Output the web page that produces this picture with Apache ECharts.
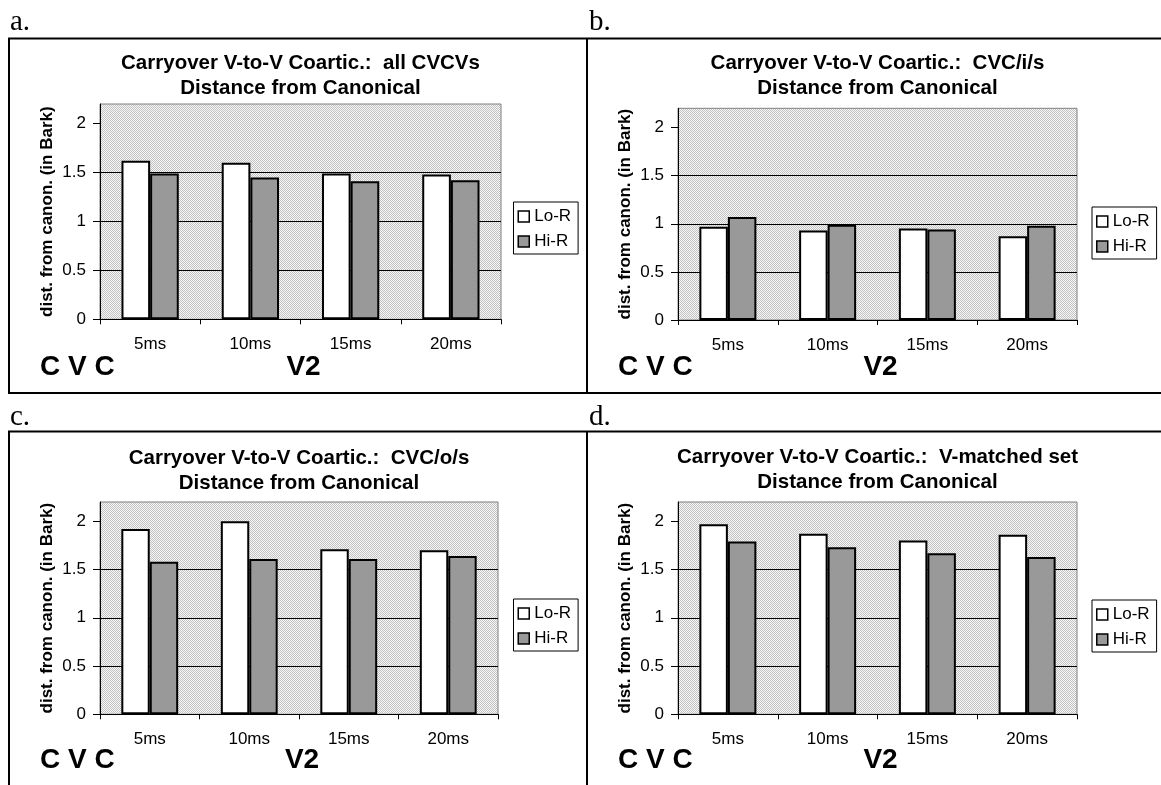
<!DOCTYPE html>
<html>
<head>
<meta charset="utf-8">
<script src="https://cdn.jsdelivr.net/npm/echarts@6/dist/echarts.min.js"></script>
<style>
  html, body { margin: 0; padding: 0; background: #fff; }
  #chart { width: 1161px; height: 785px; }
</style>
</head>
<body>
<div id="chart"></div>
<script>
// ---- data ----
const categories = ['5ms', '10ms', '15ms', '20ms'];
const seriesNames = ['Lo-R', 'Hi-R'];
const yTicks = [0, 0.5, 1, 1.5, 2];

// a. all CVCVs
const loR_all = [1.62, 1.60, 1.49, 1.48];
const hiR_all = [1.49, 1.45, 1.41, 1.42];
// b. CVC/i/s
const loR_i = [0.97, 0.93, 0.95, 0.87];
const hiR_i = [1.07, 0.99, 0.94, 0.98];
// c. CVC/o/s
const loR_o = [1.92, 2.00, 1.71, 1.70];
const hiR_o = [1.58, 1.61, 1.61, 1.64];
// d. V-matched set
const loR_v = [1.97, 1.87, 1.80, 1.86];
const hiR_v = [1.79, 1.73, 1.67, 1.63];

const panelLetters = ['a.', 'b.', 'c.', 'd.'];
const panelTitles = [
  'Carryover V-to-V Coartic.:  all CVCVs',
  'Carryover V-to-V Coartic.:  CVC/i/s',
  'Carryover V-to-V Coartic.:  CVC/o/s',
  'Carryover V-to-V Coartic.:  V-matched set'
];
const subTitle = 'Distance from Canonical';
const yName = 'dist. from canon. (in Bark)';
const cvcText = 'C V C';
const v2Text = 'V2';

const loSets = [loR_all, loR_i, loR_o, loR_v];
const hiSets = [hiR_all, hiR_i, hiR_o, hiR_v];

// ---- layout ----
const SANS = '"Liberation Sans", Arial, sans-serif';
const SERIF = '"Liberation Serif", "Times New Roman", serif';
const layout = [
  { grid: { left: 100, top: 104, width: 401, height: 215.3 }, letter: [10, 22], titleTop: 51, legend: [513.5, 202], bottomY: 367.5 },
  { grid: { left: 678, top: 108.3, width: 399, height: 211.7 }, letter: [589, 22], titleTop: 51, legend: [1092, 207], bottomY: 367.5 },
  { grid: { left: 100, top: 502, width: 398, height: 212.3 }, letter: [10, 417], titleTop: 446, legend: [513.5, 599], bottomY: 760.5 },
  { grid: { left: 678, top: 502, width: 399, height: 212.3 }, letter: [589, 417], titleTop: 445, legend: [1092, 600], bottomY: 760.5 }
];

// stippled plot-area fill
const pat = document.createElement('canvas');
pat.width = 2; pat.height = 2;
const pctx = pat.getContext('2d');
pctx.fillStyle = '#f7f7f7';
pctx.fillRect(0, 0, 2, 2);
pctx.fillStyle = '#c2c2c2';
pctx.fillRect(0, 0, 1, 1);
pctx.fillRect(1, 1, 1, 1);
const plotFill = { image: pat, repeat: 'repeat' };

const grids = [], xAxes = [], yAxes = [], series = [], legends = [], titles = [], graphics = [];

layout.forEach((L, i) => {
  const g = L.grid;
  const cx = g.left + g.width / 2;
  grids.push(Object.assign({
    show: true,
    backgroundColor: plotFill,
    borderColor: '#808080',
    borderWidth: 1,
    containLabel: false
  }, g));

  xAxes.push({
    type: 'category',
    gridIndex: i,
    data: categories,
    axisLine: { show: true, lineStyle: { color: '#000', width: 1 } },
    axisTick: { show: true, length: 5, lineStyle: { color: '#000' } },
    axisLabel: { fontSize: 17, color: '#000', fontFamily: SANS, margin: 17 },
    splitLine: { show: false }
  });

  yAxes.push({
    type: 'value',
    gridIndex: i,
    min: 0,
    max: 2.2,
    interval: 0.5,
    name: yName,
    nameLocation: 'middle',
    nameGap: 44,
    nameTextStyle: { fontSize: 17, fontWeight: 'bold', color: '#000', fontFamily: SANS },
    axisLine: { show: true, lineStyle: { color: '#000', width: 1 } },
    axisTick: { show: true, length: 7, lineStyle: { color: '#000' }, customValues: yTicks },
    axisLabel: { fontSize: 17, color: '#000', fontFamily: SANS, margin: 14, customValues: yTicks },
    splitLine: { show: true, showMaxLine: false, lineStyle: { color: '#000', width: 1 } }
  });

  series.push({
    type: 'bar',
    name: seriesNames[0],
    xAxisIndex: i,
    yAxisIndex: i,
    data: loSets[i],
    barGap: '0%',
    barCategoryGap: '42.86%',
    itemStyle: { color: '#ffffff', borderColor: '#000', borderWidth: 2 },
    emphasis: { disabled: true }
  });
  series.push({
    type: 'bar',
    name: seriesNames[1],
    xAxisIndex: i,
    yAxisIndex: i,
    data: hiSets[i],
    barGap: '0%',
    barCategoryGap: '42.86%',
    itemStyle: { color: '#999999', borderColor: '#000', borderWidth: 2 },
    emphasis: { disabled: true }
  });

  legends.push({
    data: seriesNames,
    orient: 'vertical',
    left: L.legend[0],
    top: L.legend[1],
    itemWidth: 11,
    itemHeight: 11,
    itemGap: 8,
    padding: [6, 7, 4, 4],
    borderColor: '#000',
    borderWidth: 1,
    backgroundColor: '#fff',
    icon: 'rect',
    itemStyle: { borderWidth: 1.5 },
    textStyle: { fontSize: 17, color: '#000', fontFamily: SANS },
    selectedMode: false
  });

  titles.push({
    text: panelTitles[i] + '\n' + subTitle,
    left: cx,
    top: L.titleTop,
    textAlign: 'center',
    padding: 0,
    textStyle: { fontSize: 20.5, fontWeight: 'bold', color: '#000', fontFamily: SANS, lineHeight: 25 }
  });

  graphics.push({
    type: 'text',
    x: L.letter[0],
    y: L.letter[1],
    style: { text: panelLetters[i], font: '29px ' + SERIF, fill: '#000', verticalAlign: 'middle' }
  });
  graphics.push({
    type: 'text',
    x: g.left - 60,
    y: L.bottomY,
    style: { text: cvcText, font: 'bold 28px ' + SANS, fill: '#000', verticalAlign: 'middle' }
  });
  graphics.push({
    type: 'text',
    x: cx + 3,
    y: L.bottomY,
    style: { text: v2Text, font: 'bold 28px ' + SANS, fill: '#000', align: 'center', verticalAlign: 'middle' }
  });
});

// panel frames
const frameStyle = { stroke: '#000', lineWidth: 2 };
const frameLines = [
  [8, 38.5, 1161, 38.5], [8, 393, 1161, 393], [9, 38.5, 9, 393], [587, 38.5, 587, 393],
  [8, 431.5, 1161, 431.5], [9, 431.5, 9, 785], [587, 431.5, 587, 785]
];
frameLines.forEach(l => {
  graphics.push({ type: 'line', shape: { x1: l[0], y1: l[1], x2: l[2], y2: l[3] }, style: frameStyle, silent: true });
});

const chart = echarts.init(document.getElementById('chart'), null, { renderer: 'canvas' });
chart.setOption({
  animation: false,
  backgroundColor: '#fff',
  title: titles,
  legend: legends,
  grid: grids,
  xAxis: xAxes,
  yAxis: yAxes,
  series: series,
  graphic: graphics
});
</script>
</body>
</html>
